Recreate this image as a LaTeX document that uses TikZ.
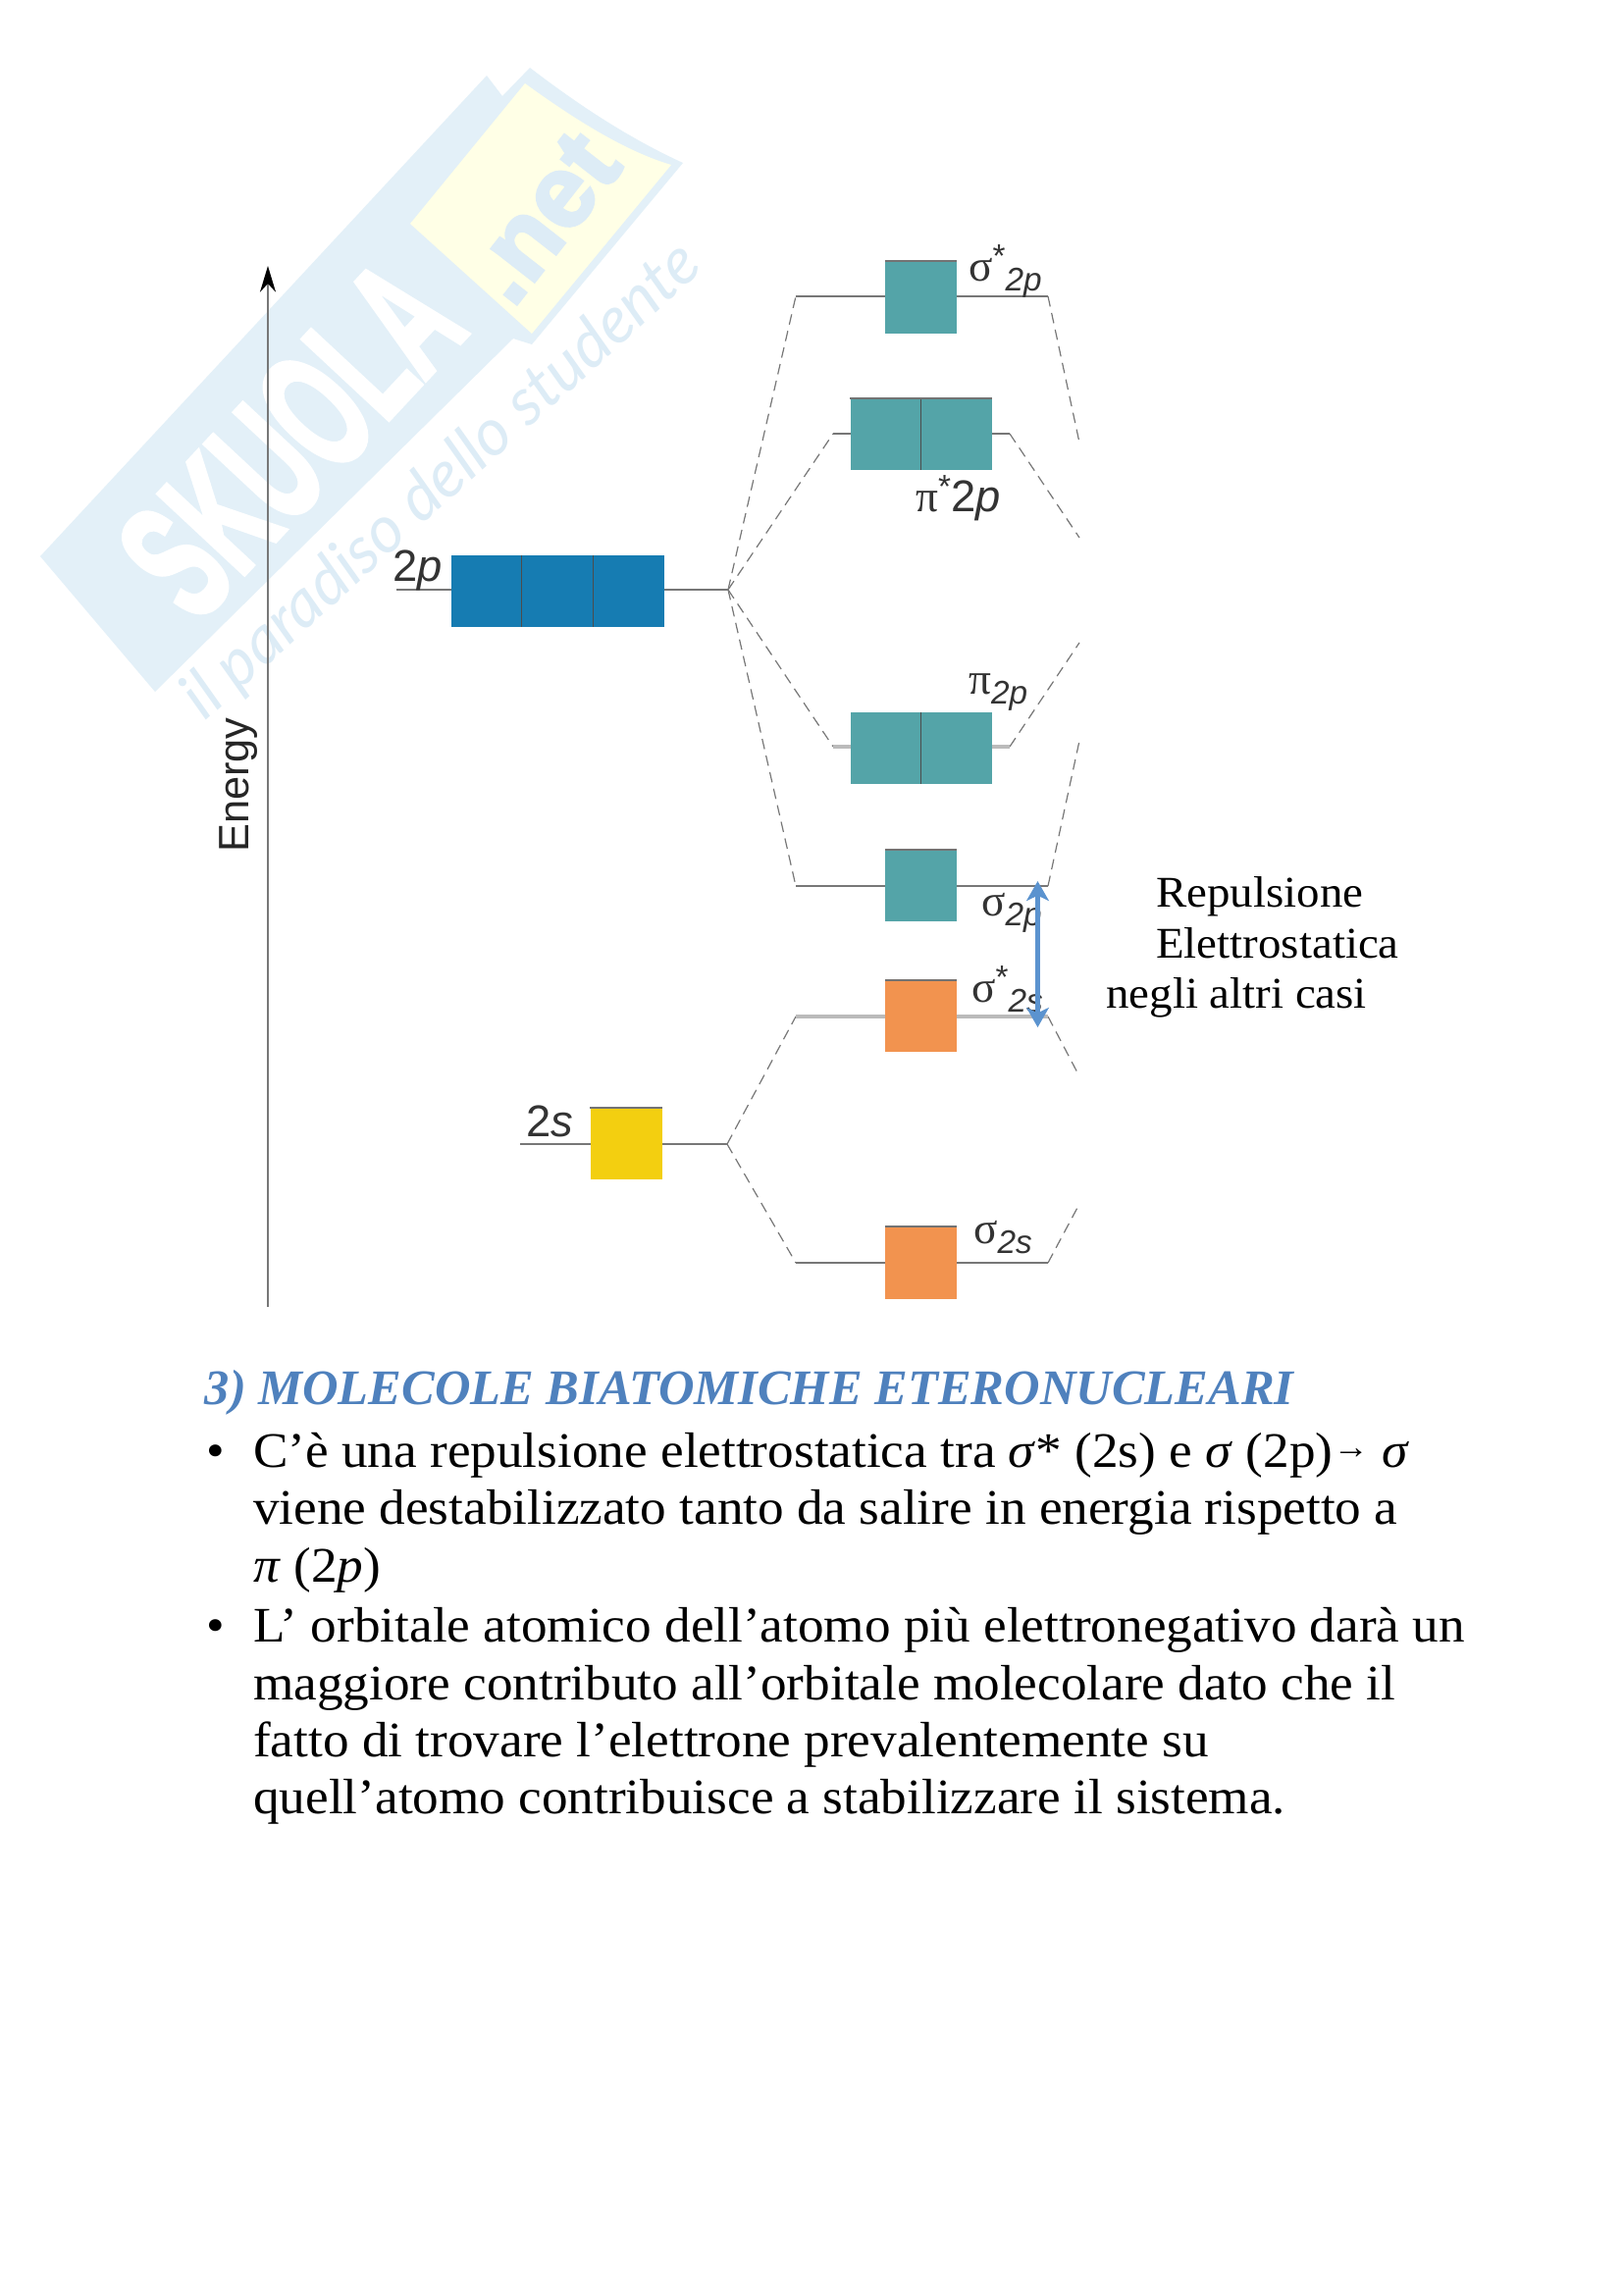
\documentclass[tikz,border=0pt]{standalone}
\usepackage{fontspec}
\usepackage{xcolor}
\usetikzlibrary{arrows.meta}
\setmainfont[FakeStretch=1.05]{Liberation Serif}
\newfontfamily\diagfont{Liberation Sans}
\newfontfamily\greekfont{Liberation Serif}
\newfontfamily\markfont{Lato}
\newfontfamily\wmfont[BoldFeatures={FakeBold=3}]{Liberation Sans}
\definecolor{wmblue}{HTML}{E3F0F8}
\definecolor{wmyellow}{HTML}{FFFFE6}
\definecolor{wmtext}{HTML}{DDECF6}
\definecolor{tealbox}{HTML}{54A4A8}
\definecolor{bluebox}{HTML}{167CB2}
\definecolor{orangebox}{HTML}{F2934F}
\definecolor{yellowbox}{HTML}{F3CF10}
\definecolor{levelgray}{HTML}{777777}
\definecolor{headblue}{HTML}{4F81BD}
\definecolor{arrowblue}{HTML}{5B93CF}
\newcommand{\fsz}[1]{\fontsize{#1}{#1}\selectfont}
\newcommand{\subl}[1]{\raisebox{-0.45ex}{\fsz{25}\itshape #1}}
\newcommand{\supl}{\raisebox{0.55ex}{\fsz{25}*}}
\newcommand{\sgm}{{\greekfont σ}}
\newcommand{\ppi}{{\greekfont π}}
\tikzset{
	orbbox/.style={inner sep=0pt,minimum width=54.75pt,minimum height=54.75pt},
	orbcell/.style={orbbox,minimum width=54pt},
	level/.style={draw=levelgray,line width=2.2pt},
	levellight/.style={draw=levelgray!50,line width=2.6pt},
	split/.style={draw=levelgray,line width=0.9pt,dash pattern=on 8pt off 5pt},
	divider/.style={draw=black!70,line width=0.8pt},
	topedge/.style={draw=black!55,line width=1.6pt},
	orblabel/.style={inner sep=0pt,anchor=base west,font=\diagfont\fsz{34},text=black!80},
	bodyline/.style={inner sep=0pt,anchor=base west,font=\fsz{38}},
	noteline/.style={inner sep=0pt,anchor=base west,font=\fsz{33.5}},
}
\begin{document}
\begin{tikzpicture}[x=0.75pt,y=0.75pt,yscale=-1,xscale=1]
	\useasboundingbox (0,0) rectangle (1654,2339);
	\fill[white] (0,0) rectangle (1654,2339);
	\fill[wmblue] (41,567) -- (496,77) -- (512,98) -- (540,69) .. controls (600,115) and (650,145) .. (696,166) -- (542,351) -- (523,345) -- (158,705) -- cycle;
	\fill[wmyellow] (418,228) -- (535,85) .. controls (590,125) and (640,155) .. (684,168) -- (542,340) -- cycle;
	\draw (296,447) node (wmname) [rotate=47,inner sep=0pt,text=white,font=\wmfont\bfseries\fsz{130}] {\scalebox{0.56}[1]{SKUOLA}};
	\draw (553,222) node (wmnet) [rotate=52,inner sep=0pt,text=wmtext,font=\wmfont\bfseries\fsz{78}] {.net};
	\draw (451,491) node (wmslogan) [rotate=42.2,inner sep=0pt,text=wmtext,font=\markfont\itshape\fsz{50}] {il paradiso dello studente};

	\coordinate (axisbot) at (273,1332);
	\coordinate (axistop) at (273,271);
	\draw [levelgray,line width=1.8pt,-{Stealth[length=20pt,width=12pt,black]}] (axisbot) -- (axistop);
	\draw (243,800) node (energy) [rotate=90,inner sep=0pt,font=\diagfont\fsz{32.5},text=black!85] {Energy};

	\coordinate (hubp) at (742,601);
	\coordinate (hubs) at (741,1166);
	\coordinate (plft) at (404,601);
	\coordinate (slft) at (530,1166);
	\coordinate (sastarpL) at (811,302);
	\coordinate (sastarpR) at (1068,302);
	\coordinate (pistarL) at (849,442);
	\coordinate (pistarR) at (1029,442);
	\coordinate (piL) at (849,761);
	\coordinate (piR) at (1029,761);
	\coordinate (sigmapL) at (811,903);
	\coordinate (sigmapR) at (1068,903);
	\coordinate (sastarsL) at (811,1036);
	\coordinate (sastarsR) at (1068,1036);
	\coordinate (sigmasL) at (811,1287);
	\coordinate (sigmasR) at (1068,1287);
	\coordinate (cut1) at (1100,451);
	\coordinate (cut2) at (1100,548);
	\coordinate (cut3) at (1100,655);
	\coordinate (cut4) at (1100,755);
	\coordinate (cut5) at (1100,1097);
	\coordinate (cut6) at (1100,1227);

	\draw [split] (hubp) -- (sastarpL);
	\draw [split] (hubp) -- (pistarL);
	\draw [split] (hubp) -- (piL);
	\draw [split] (hubp) -- (sigmapL);
	\draw [split] (sastarpR) -- (cut1);
	\draw [split] (pistarR) -- (cut2);
	\draw [split] (piR) -- (cut3);
	\draw [split] (sigmapR) -- (cut4);
	\draw [split] (hubs) -- (sastarsL);
	\draw [split] (hubs) -- (sigmasL);
	\draw [split] (sastarsR) -- (cut5);
	\draw [split] (sigmasR) -- (cut6);

	\draw [level] (plft) -- (hubp);
	\draw [level] (slft) -- (hubs);
	\draw [level] (sastarpL) -- (sastarpR);
	\draw [level] (pistarL) -- (pistarR);
	\draw [levellight] (piL) -- (piR);
	\draw [level] (sigmapL) -- (sigmapR);
	\draw [levellight] (sastarsL) -- (sastarsR);
	\draw [level] (sigmasL) -- (sigmasR);

	\draw (938.5,303) node (sastarp) [orbbox,fill=tealbox] {};
	\draw (902.5,442.5) node (pistara) [orbcell,fill=tealbox] {};
	\draw (974.5,442.5) node (pistarb) [orbcell,fill=tealbox] {};
	\draw (495.5,602.5) node (porba) [orbcell,fill=bluebox] {};
	\draw (568,602.5) node (porbb) [orbcell,fill=bluebox] {};
	\draw (641,602.5) node (porbc) [orbcell,fill=bluebox] {};
	\draw (902.5,762.5) node (pia) [orbcell,fill=tealbox] {};
	\draw (974.5,762.5) node (pib) [orbcell,fill=tealbox] {};
	\draw (938.5,902.5) node (sigmap) [orbbox,fill=tealbox] {};
	\draw (938.5,1035.5) node (sastars) [orbbox,fill=orangebox] {};
	\draw (638,1165.5) node (sorb) [orbbox,fill=yellowbox] {};
	\draw (938.5,1287) node (sigmas) [orbbox,fill=orangebox] {};

	\draw [divider] (pistara.north east) -- (pistara.south east);
	\draw [divider] (pia.north east) -- (pia.south east);
	\draw [divider] (porba.north east) -- (porba.south east);
	\draw [divider] (porbb.north east) -- (porbb.south east);
	\foreach \orb in {sastarp,sigmap,sastars,sorb,sigmas}
		\draw [topedge] (\orb.north west) -- (\orb.north east);
	\draw [topedge] (pistara.north west) -- (pistarb.north east);

	\draw (400,592) node (lblp) [orblabel] {2\textit{p}};
	\draw (536,1158) node (lbls) [orblabel] {2\textit{s}};
	\draw (987,286) node (lblsastarp) [orblabel] {\sgm\supl\subl{2p}};
	\draw (933,521) node (lblpistar) [orblabel] {\ppi\supl 2\textit{p}};
	\draw (987,707) node (lblpi) [orblabel] {\ppi\subl{2p}};
	\draw (1000,933) node (lblsigmap) [orblabel] {\sgm\subl{2p}};
	\draw (990,1021) node (lblsastars) [orblabel] {\sgm\supl\subl{2s}};
	\draw (992,1267) node (lblsigmas) [orblabel] {\sgm\subl{2s}};

	\coordinate (arrowtop) at (1057.5,898);
	\coordinate (arrowbot) at (1057.5,1047);
	\draw [draw=arrowblue,line width=4pt,{Stealth[inset=4pt,length=15pt,width=17pt]}-{Stealth[inset=4pt,length=15pt,width=17pt]}] (arrowtop) -- (arrowbot);

	\draw (1178,924) node (noterep) [noteline] {Repulsione};
	\draw (1178,976) node (noteel) [noteline] {Elettrostatica};
	\draw (1127,1027) node (notealt) [noteline] {negli altri casi};

	\draw (208.5,1431) node (heading) [bodyline,text=headblue,font=\bfseries\itshape\fsz{38}] {\scalebox{0.95}[1]{3) MOLECOLE BIATOMICHE ETERONUCLEARI}};
	\draw (210,1495) node (bulleta) [bodyline] {\textbullet};
	\draw (210,1673) node (bulletb) [bodyline] {\textbullet};
	\draw (258,1495) node (linea) [bodyline] {C’è una repulsione elettrostatica tra \textit{σ}* (2s) e \textit{σ} (2p)\raisebox{0.35ex}{\fsz{26}→} \textit{σ}};
	\draw (258,1553) node (lineb) [bodyline] {viene destabilizzato tanto da salire in energia rispetto a};
	\draw (258,1612) node (linec) [bodyline] {\textit{π} (2\textit{p})};
	\draw (258,1673) node (lined) [bodyline] {L’ orbitale atomico dell’atomo più elettronegativo darà un};
	\draw (258,1732) node (linee) [bodyline] {maggiore contributo all’orbitale molecolare dato che il};
	\draw (258,1790) node (linef) [bodyline] {fatto di trovare l’elettrone prevalentemente su};
	\draw (258,1848) node (lineg) [bodyline] {quell’atomo contribuisce a stabilizzare il sistema.};
\end{tikzpicture}
\end{document}
